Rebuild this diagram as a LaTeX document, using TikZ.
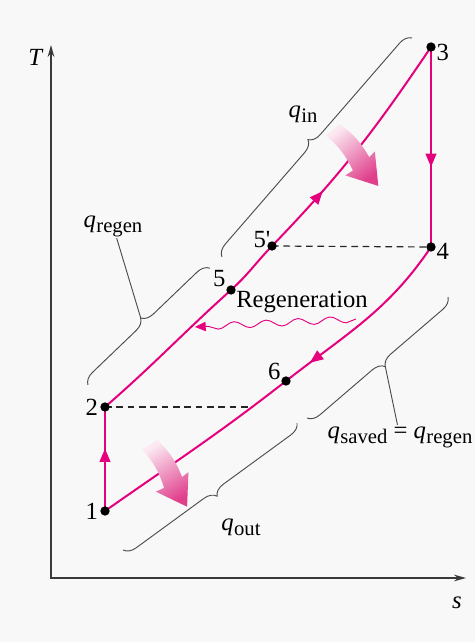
\documentclass[tikz,border=0pt]{standalone}
\usepackage{fontspec}
\setmainfont{Liberation Serif}
\usetikzlibrary{arrows.meta,calc,positioning,decorations.markings,decorations.pathmorphing,decorations.pathreplacing}
\definecolor{cyclePink}{HTML}{E5007E}
\definecolor{heatLight}{HTML}{FBE8F1}
\definecolor{heatDark}{HTML}{E03F8C}
\definecolor{axisGray}{HTML}{3A3A3A}
\definecolor{paperGray}{HTML}{F8F8F8}
\newcommand{\qsub}[1]{\textit{q}\kern0.3pt\raisebox{-0.45ex}{\fontsize{15.5}{16}\selectfont #1}}
\tikzset{
  axis/.style={{Stealth[length=9pt,width=5pt]}-{Stealth[length=9pt,width=5pt]},
    line width=1.1pt, draw=axisGray},
  process/.style={line width=1.5pt, draw=cyclePink},
  mid arrow/.style={postaction={decorate}, decoration={markings,
    mark=at position #1 with {\arrow[cyclePink]{Triangle[length=10pt,width=8pt]}}}},
  state dot/.style={circle, fill=black, inner sep=0pt, minimum size=7pt},
  state label/.style={inner sep=1pt, font=\fontsize{18.5}{20}\selectfont},
  heat label/.style={inner sep=1pt, font=\fontsize{18.5}{20}\selectfont},
  guide/.style={dash pattern=on 5pt off 3.5pt, line width=0.9pt, draw=black!85},
  heat brace/.style={decorate, decoration={brace, amplitude=9pt},
    line width=0.7pt, draw=black!70},
  heat brace mirrored/.style={decorate, decoration={brace, amplitude=9pt, mirror},
    line width=0.7pt, draw=black!70},
  leader/.style={line width=0.7pt, draw=black!70},
  regen wave/.style={draw=cyclePink, line width=0.7pt, decorate,
    decoration={snake, amplitude=2.5pt, segment length=24pt, post length=7pt},
    -{Triangle[length=8pt,width=7pt]}},
  heat arrow/.pic={
    \shade[top color=heatLight, bottom color=heatDark, shading angle=#1]
      (0,-9) -- (0,9) to[bend left=12] (44,11) -- (43,19) -- (72,0)
      -- (43,-19) -- (44,-10) to[bend right=12] (0,-9) -- cycle;
  }
}
\begin{document}
\begin{tikzpicture}[x=0.75pt, y=0.75pt]
  \useasboundingbox (0,0) rectangle (475,642);
  \fill[paperGray] (0,0) rectangle (475,642);
  % axes
  \coordinate (O) at (51,64);
  \coordinate (Tend) at (51,597);
  \coordinate (send) at (466,64);
  \draw[axis] (Tend) -- (O) -- (send);
  \node[state label] (lT) at (36,585) {\textit{T}};
  \node[state label] (ls) at (457,39) {\textit{s}};
  % states
  \coordinate (p1) at (105,131);
  \coordinate (p2) at (105,235);
  \coordinate (p3) at (431,595);
  \coordinate (p4) at (431,395);
  \coordinate (p5) at (231,352);
  \coordinate (p5b) at (272,396);
  \coordinate (p6) at (286,261);
  \coordinate (q2) at (249,235);
  % cycle
  \draw[guide] (p5b) -- (p4);
  \draw[guide] (p2) -- (q2);
  \draw[process, mid arrow=0.63] (p2) to[out=41,in=222] (p5)
    to[out=42,in=226] (p5b) to[out=46,in=236] (p3);
  \draw[process, mid arrow=0.6] (p3) -- (p4);
  \draw[process, mid arrow=0.4] (p4) to[out=236,in=38] (p6)
    to[out=218,in=35] (p1);
  \draw[process, mid arrow=0.6] (p1) -- (p2);
  \foreach \p in {p1,p2,p3,p4,p5,p5b,p6}
    \node[state dot] (d\p) at (\p) {};
  \node[state label, left=4pt of p1] (l1) {1};
  \node[state label, left=4pt of p2] (l2) {2};
  \node[state label, right=3pt of p3, yshift=-4pt] (l3) {3};
  \node[state label, right=3pt of p4, yshift=-3pt] (l4) {4};
  \node[state label, above left=1pt and 3pt of p5] (l5) {5};
  \node[state label, left=0pt of p5b, yshift=5pt] (l5b) {5\textquotesingle};
  \node[state label, above left=0pt and 3pt of p6] (l6) {6};
  % regeneration
  \coordinate (waveStart) at (356,323);
  \coordinate (waveEnd) at (195,315);
  \draw[regen wave] (waveStart) -- (waveEnd);
  \node[heat label] (lregeneration) at (302,340) {Regeneration};
  % heat braces
  \coordinate (inA) at (222,385);
  \coordinate (inB) at (412,604);
  \coordinate (regenA) at (88,257);
  \coordinate (regenB) at (210,374);
  \coordinate (savedA) at (307,224);
  \coordinate (savedB) at (448,345);
  \coordinate (outA) at (123,92);
  \coordinate (outB) at (297,219);
  \coordinate (regenTip) at ($(regenA)!0.5!(regenB)!9pt!90:(regenB)$);
  \coordinate (savedTip) at ($(savedA)!0.5!(savedB)!9pt!-90:(savedB)$);
  \draw[heat brace] (inA) -- (inB);
  \draw[heat brace] (regenA) -- (regenB);
  \draw[heat brace mirrored] (savedA) -- (savedB);
  \draw[heat brace mirrored] (outA) -- (outB);
  \node[heat label] (lin) at (303,528) {\qsub{in}};
  \node[heat label] (lregen) at (113,416) {\qsub{regen}};
  \node[heat label] (lsaved) at (400,205) {\qsub{saved} = \qsub{regen}};
  \node[heat label] (lout) at (241,115) {\qsub{out}};
  \draw[leader] (regenTip) -- (lregen);
  \draw[leader] (savedTip) -- (lsaved);
  % heat flow arrows
  \pic[rotate=-51] (heatIn) at (333,512) {heat arrow=39};
  \pic[rotate=-59] (heatOut) at (150,197) {heat arrow=31};
\end{tikzpicture}
\end{document}
